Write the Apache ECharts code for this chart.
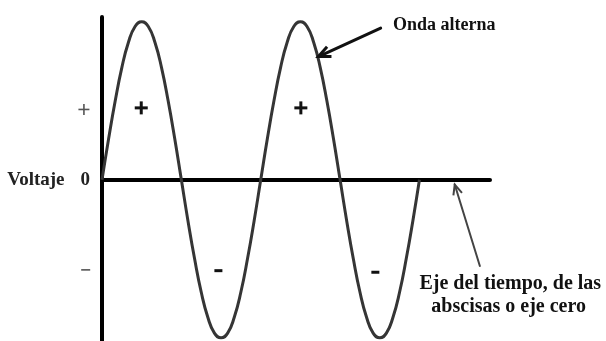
<!DOCTYPE html>
<html>
<head>
<meta charset="utf-8">
<script src="https://cdn.jsdelivr.net/npm/echarts@6/dist/echarts.min.js"></script>
<style>
  html, body { margin: 0; padding: 0; background: #fff; }
  #chart { width: 606px; height: 341px; }
</style>
</head>
<body>
<div id="chart"></div>
<script>
// Phase of the alternating wave (degrees) and its relative voltage.
const phase = [
  0, 15, 30, 45, 60, 75, 90, 105, 120, 135, 150, 165,
  180, 195, 210, 225, 240, 255, 270, 285, 300, 315, 330, 345,
  360, 375, 390, 405, 420, 435, 450, 465, 480, 495, 510, 525,
  540, 555, 570, 585, 600, 615, 630, 645, 660, 675, 690, 705, 720
];
const voltage = [
  0, 0.26, 0.5, 0.71, 0.87, 0.97, 1, 0.97, 0.87, 0.71, 0.5, 0.26,
  0, -0.26, -0.5, -0.71, -0.87, -0.97, -1, -0.97, -0.87, -0.71, -0.5, -0.26,
  0, 0.26, 0.5, 0.71, 0.87, 0.97, 1, 0.97, 0.87, 0.71, 0.5, 0.26,
  0, -0.26, -0.5, -0.71, -0.87, -0.97, -1, -0.97, -0.87, -0.71, -0.5, -0.26, 0
];

// Sign marks on the voltage scale and inside each half cycle.
const scaleMarks = [
  { sign: '+', x: -41, y: 0.445 },
  { sign: '0', x: -38, y: 0 },
  { sign: '-', x: -37, y: -0.57 }
];
const halfCycleSigns = [
  { sign: '+', x: 89, y: 0.455 },
  { sign: '+', x: 451, y: 0.455 },
  { sign: '-', x: 264, y: -0.575 },
  { sign: '-', x: 620, y: -0.585 }
];
const axisTitle = { text: 'Voltaje', x: -215, y: 0 };
const waveNote = { text: 'Onda alterna', x: 660, y: 0.975, from: [632, 0.96], to: [491, 0.78] };
const timeNote = {
  lines: ['Eje del tiempo, de las', 'abscisas o eje cero'],
  x: [720, 747], y: [-0.66, -0.805],
  from: [857, -0.545], to: [800, -0.03]
};

const serif = '"Liberation Serif", "Times New Roman", serif';

const chart = echarts.init(document.getElementById('chart'), null, { renderer: 'canvas' });

chart.setOption({
  backgroundColor: '#fff',
  animation: false,
  grid: { left: 102, right: 116, top: 17, bottom: 0 },
  xAxis: {
    type: 'value', min: 0, max: 880,
    axisLine: { show: true, onZero: true, lineStyle: { color: '#000', width: 4 } },
    axisTick: { show: false }, axisLabel: { show: false }, splitLine: { show: false }
  },
  yAxis: {
    type: 'value', min: -1.02, max: 1.03,
    axisLine: { show: true, onZero: false, lineStyle: { color: '#000', width: 4 } },
    axisTick: { show: false }, axisLabel: { show: false }, splitLine: { show: false }
  },
  series: [{
    type: 'line',
    data: phase.map((p, i) => [p, voltage[i]]),
    smooth: true,
    symbol: 'none',
    lineStyle: { color: '#353535', width: 3 },
    z: 1
  }]
});

const toPx = (x, y) => chart.convertToPixel({ gridIndex: 0 }, [x, y]);

function arrow(fromData, toData, color, width, head) {
  const a = toPx(fromData[0], fromData[1]);
  const b = toPx(toData[0], toData[1]);
  const ang = Math.atan2(a[1] - b[1], a[0] - b[0]);
  const spread = 0.42;
  const w1 = [b[0] + head * Math.cos(ang + spread), b[1] + head * Math.sin(ang + spread)];
  const w2 = [b[0] + head * Math.cos(ang - spread), b[1] + head * Math.sin(ang - spread)];
  return [
    { type: 'line', shape: { x1: a[0], y1: a[1], x2: b[0], y2: b[1] },
      style: { stroke: color, lineWidth: width, lineCap: 'round' }, z: 10 },
    { type: 'polyline', shape: { points: [w1, b, w2] },
      style: { stroke: color, lineWidth: width, fill: null, lineJoin: 'miter' }, z: 10 }
  ];
}

// Plus / minus drawn as bars so their size and weight can be set directly.
function signMark(sign, p, size, thick, color) {
  const out = [{
    type: 'rect', z: 10,
    shape: { x: p[0] - size / 2, y: p[1] - thick / 2, width: size, height: thick },
    style: { fill: color }
  }];
  if (sign === '+') {
    out.push({
      type: 'rect', z: 10,
      shape: { x: p[0] - thick / 2, y: p[1] - size / 2, width: thick, height: size },
      style: { fill: color }
    });
  }
  return out;
}

const graphics = [];

scaleMarks.forEach(m => {
  const p = toPx(m.x, m.y);
  if (m.sign === '0') {
    graphics.push({
      type: 'text', x: p[0], y: p[1], z: 10,
      style: { text: '0', fill: '#222', font: 'bold 19px ' + serif, textAlign: 'center', textVerticalAlign: 'middle' }
    });
  } else {
    graphics.push(...signMark(m.sign, p, m.sign === '+' ? 11 : 9, 1.6, '#555'));
  }
});

halfCycleSigns.forEach(m => {
  const p = toPx(m.x, m.y);
  graphics.push(...signMark(m.sign, p, m.sign === '+' ? 13 : 8, 3, '#111'));
});

{
  const p = toPx(axisTitle.x, axisTitle.y);
  graphics.push({
    type: 'text', x: p[0], y: p[1], z: 10,
    style: { text: axisTitle.text, fill: '#222', font: 'bold 19px ' + serif, textAlign: 'left', textVerticalAlign: 'middle' }
  });
}

{
  const p = toPx(waveNote.x, waveNote.y);
  graphics.push({
    type: 'text', x: p[0], y: p[1], z: 10,
    style: { text: waveNote.text, fill: '#111', font: 'bold 18px ' + serif, textAlign: 'left', textVerticalAlign: 'middle' }
  });
  graphics.push(...arrow(waveNote.from, waveNote.to, '#111', 3, 13));
}

timeNote.lines.forEach((t, i) => {
  const p = toPx(timeNote.x[i], timeNote.y[i]);
  graphics.push({
    type: 'text', x: p[0], y: p[1], z: 10,
    style: { text: t, fill: '#111', font: 'bold 20px ' + serif, textAlign: 'left', textVerticalAlign: 'middle' }
  });
});
graphics.push(...arrow(timeNote.from, timeNote.to, '#444', 2, 11));

chart.setOption({ graphic: graphics });
</script>
</body>
</html>
